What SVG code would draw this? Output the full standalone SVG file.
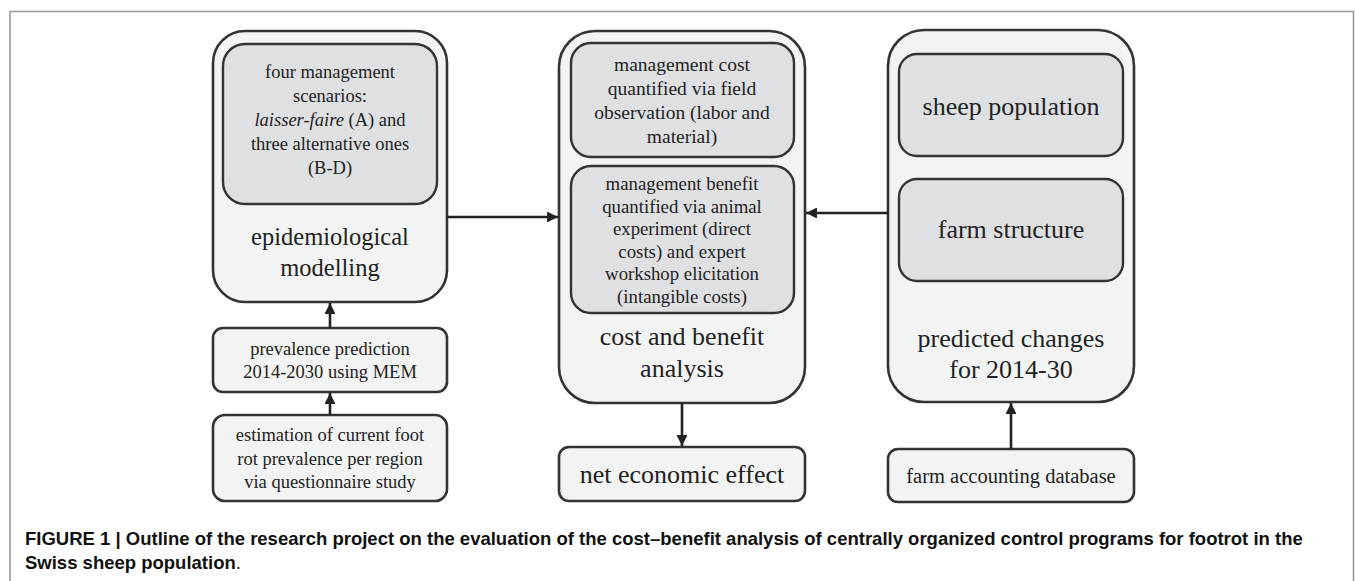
<svg xmlns="http://www.w3.org/2000/svg" width="1355" height="581" viewBox="0 0 1355 581">
<defs>
<style>
.outer{fill:#f2f3f3;stroke:#333;stroke-width:2.6}
.inner{fill:#dfe0e2;stroke:#333;stroke-width:2.4}
.t{font-family:"Liberation Serif","Times New Roman",serif;fill:#222;text-anchor:middle}
.s{font-size:18.5px}
.b{font-size:26px}
.conn{stroke:#222;stroke-width:2.6;fill:none}
.cap{font-family:"Liberation Sans",Arial,sans-serif;font-weight:bold;font-size:18.5px;fill:#111}
</style>
<marker id="ah" viewBox="0 0 10 10" refX="10" refY="5" markerWidth="4.2" markerHeight="4.2" markerUnits="strokeWidth" orient="auto">
<path d="M0,0 L10,5 L0,10 z" fill="#222"/>
</marker>
</defs>
<rect width="1355" height="581" fill="#fff"/>
<path d="M10,582 V11.5 H1353.5 V582" fill="none" stroke="#999" stroke-width="1.6"/>

<g id="epi">
<rect class="outer" x="213" y="31" width="234" height="271" rx="32"/>
<rect class="inner" x="223" y="44" width="214" height="160" rx="22"/>
<text class="t s" x="330" y="78">four management</text>
<text class="t s" x="330" y="102">scenarios:</text>
<text class="t s" x="330" y="126"><tspan font-style="italic">laisser-faire</tspan> (A) and</text>
<text class="t s" x="330" y="150">three alternative ones</text>
<text class="t s" x="330" y="174">(B-D)</text>
<text class="t" font-size="24.5" x="330" y="245">epidemiological</text>
<text class="t" font-size="24.5" x="330" y="276">modelling</text>
</g>

<g id="prev">
<rect class="outer" x="213" y="328" width="234" height="64" rx="10"/>
<text class="t s" x="330" y="355">prevalence prediction</text>
<text class="t s" x="330" y="378">2014-2030 using MEM</text>
</g>

<g id="est">
<rect class="outer" x="213" y="415" width="234" height="86" rx="12"/>
<text class="t s" x="330" y="441">estimation of current foot</text>
<text class="t s" x="330" y="465">rot prevalence per region</text>
<text class="t s" x="330" y="488">via questionnaire study</text>
</g>

<g id="cba">
<rect class="outer" x="559" y="31" width="246" height="372" rx="36"/>
<rect class="inner" x="571" y="43" width="223" height="114" rx="20"/>
<text class="t" font-size="19.5" x="682" y="71">management cost</text>
<text class="t" font-size="19.5" x="682" y="95">quantified via field</text>
<text class="t" font-size="19.5" x="682" y="119">observation (labor and</text>
<text class="t" font-size="19.5" x="682" y="143">material)</text>
<rect class="inner" x="571" y="166" width="223" height="147" rx="20"/>
<text class="t" font-size="18.8" x="682" y="190">management benefit</text>
<text class="t" font-size="18.8" x="682" y="212.5">quantified via animal</text>
<text class="t" font-size="18.8" x="682" y="235">experiment (direct</text>
<text class="t" font-size="18.8" x="682" y="257.5">costs) and expert</text>
<text class="t" font-size="18.8" x="682" y="280">workshop elicitation</text>
<text class="t" font-size="18.8" x="682" y="302.5">(intangible costs)</text>
<text class="t b" x="682" y="345">cost and benefit</text>
<text class="t b" x="682" y="377">analysis</text>
</g>

<g id="net">
<rect class="outer" x="559" y="447" width="246" height="54" rx="10"/>
<text class="t b" x="682" y="483">net economic effect</text>
</g>

<g id="pred">
<rect class="outer" x="888" y="30" width="246" height="372" rx="36"/>
<rect class="inner" x="899" y="54" width="224" height="102" rx="18"/>
<text class="t b" x="1011" y="115">sheep population</text>
<rect class="inner" x="899" y="179" width="224" height="102" rx="18"/>
<text class="t b" x="1011" y="238">farm structure</text>
<text class="t b" x="1011" y="347">predicted changes</text>
<text class="t b" x="1011" y="378">for 2014-30</text>
</g>

<g id="fadb">
<rect class="outer" x="888" y="449" width="246" height="53" rx="10"/>
<text class="t" font-size="20.5" x="1011" y="483">farm accounting database</text>
</g>

<g id="connectors">
<line class="conn" x1="447" y1="217" x2="558" y2="217" marker-end="url(#ah)"/>
<line class="conn" x1="888" y1="213" x2="806" y2="213" marker-end="url(#ah)"/>
<line class="conn" x1="330" y1="328" x2="330" y2="303" marker-end="url(#ah)"/>
<line class="conn" x1="330" y1="415" x2="330" y2="393" marker-end="url(#ah)"/>
<line class="conn" x1="682" y1="403" x2="682" y2="446" marker-end="url(#ah)"/>
<line class="conn" x1="1011" y1="449" x2="1011" y2="403" marker-end="url(#ah)"/>
</g>

<g id="caption">
<text class="cap" x="25" y="545">FIGURE 1 | Outline of the research project on the evaluation of the cost–benefit analysis of centrally organized control programs for footrot in the</text>
<text class="cap" x="25" y="569">Swiss sheep population<tspan font-weight="normal">.</tspan></text>
</g>
</svg>
